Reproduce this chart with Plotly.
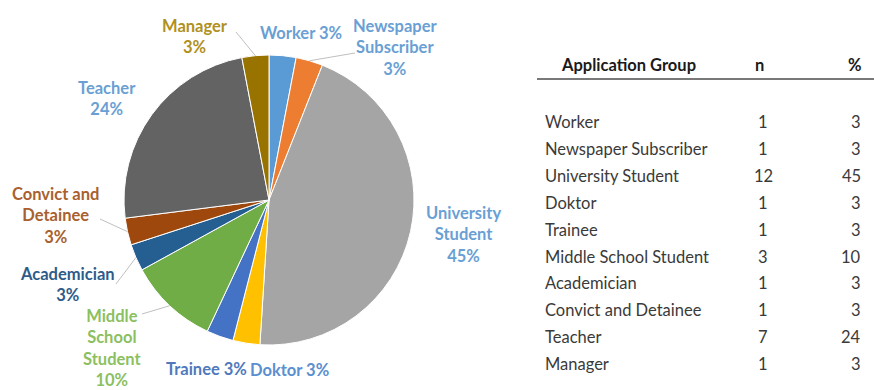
import math
import plotly.graph_objects as go

W, H = 874, 390

# ---- data -------------------------------------------------------------
groups = ["Worker", "Newspaper Subscriber", "University Student", "Doktor",
          "Trainee", "Middle School Student", "Academician",
          "Convict and Detainee", "Teacher", "Manager"]
counts = [1, 1, 12, 1, 1, 3, 1, 1, 7, 1]
percents = [3, 3, 45, 3, 3, 10, 3, 3, 24, 3]

# callout wording (line breaks) for each slice
callout_names = ["Worker", "Newspaper<br>Subscriber", "University<br>Student",
                 "Doktor", "Trainee", "Middle<br>School<br>Student",
                 "Academician", "Convict and<br>Detainee", "Teacher", "Manager"]
single_line = {"Worker", "Doktor", "Trainee"}

# ---- styles -----------------------------------------------------------
slice_colors = ["#5B9BD5", "#ED7D31", "#A5A5A5", "#FFC000", "#4472C4",
                "#70AD47", "#255E91", "#9E480E", "#636363", "#997300"]
callout_colors = ["#6A9FD4", "#6A9FD4", "#6A9FD4", "#5B8FD0", "#4F79BC",
                  "#8CBF5F", "#2E5C8A", "#A8612E", "#6A9FD4", "#B0901E"]
# callout centres in pixels (x from left, y from top)
callout_pos = [(301, 33), (395, 47), (463, 234), (289, 370), (206, 369),
               (112, 348), (67, 284), (55, 215), (107, 98), (195, 36)]
# leader line start points (label side) in pixels
leader_start = {"Newspaper Subscriber": (355, 53), "Middle School Student": (142, 314),
                "Academician": (116, 284), "Convict and Detainee": (100, 219),
                "Manager": (236, 32)}

CX, CY, R = 269, 200, 145          # pie centre and radius in pixels
FONT = "Lato, 'Open Sans', sans-serif"
FS = 16.5


def px(x):
    return x / W


def py(y):
    return 1 - y / H


fig = go.Figure()
fig.add_trace(go.Pie(
    labels=groups, values=percents, sort=False, direction="clockwise",
    rotation=0, textinfo="none", hoverinfo="label+value",
    marker=dict(colors=slice_colors, line=dict(color="white", width=1)),
    domain=dict(x=[px(CX - R), px(CX + R)], y=[py(CY + R), py(CY - R)]),
    showlegend=False,
))

annotations = []
shapes = []

# callouts
total = sum(percents)
cum = 0
for name, label, val, col, (lx, ly) in zip(groups, callout_names, percents,
                                           callout_colors, callout_pos):
    sep = " " if name in single_line else "<br>"
    annotations.append(dict(
        x=px(lx), y=py(ly), xref="paper", yref="paper", showarrow=False,
        text=f"<b>{label}{sep}{val}%</b>", align="center",
        xanchor="center", yanchor="middle",
        font=dict(family=FONT, size=FS, color=col)))
    theta = math.radians(360 * (cum + val / 2) / total)
    if name in leader_start:
        sx, sy = leader_start[name]
        ex = CX + R * math.sin(theta)
        ey = CY - R * math.cos(theta)
        shapes.append(dict(type="line", xref="paper", yref="paper",
                           x0=px(sx), y0=py(sy), x1=px(ex), y1=py(ey),
                           line=dict(color="#BFBFBF", width=1)))
    cum += val

# table header
for text, x in [("Application Group", 628), ("n", 759), ("%", 855)]:
    annotations.append(dict(
        x=px(x), y=py(65), xref="paper", yref="paper", showarrow=False,
        text=f"<b>{text}</b>", xanchor="center", yanchor="middle",
        font=dict(family=FONT, size=FS, color="#1a1a1a")))
shapes.append(dict(type="line", xref="paper", yref="paper",
                   x0=px(537), x1=1, y0=py(79), y1=py(79),
                   line=dict(color="#4d4d4d", width=1.5)))

# table rows
for i, (g, n, p) in enumerate(zip(groups, counts, percents)):
    y = py(122 + i * 26.9)
    annotations.append(dict(x=px(543), y=y, xref="paper", yref="paper",
                            showarrow=False, text=g, xanchor="left", yanchor="middle",
                            font=dict(family=FONT, size=FS, color="#3a3a3a")))
    annotations.append(dict(x=px(763), y=y, xref="paper", yref="paper",
                            showarrow=False, text=str(n), xanchor="center",
                            yanchor="middle",
                            font=dict(family=FONT, size=FS, color="#3a3a3a")))
    annotations.append(dict(x=px(863), y=y, xref="paper", yref="paper",
                            showarrow=False, text=str(p), xanchor="right",
                            yanchor="middle",
                            font=dict(family=FONT, size=FS, color="#3a3a3a")))

fig.update_layout(
    width=W, height=H, margin=dict(l=0, r=0, t=0, b=0),
    paper_bgcolor="white", plot_bgcolor="white",
    annotations=annotations, shapes=shapes,
)

fig.write_html("out.html")
